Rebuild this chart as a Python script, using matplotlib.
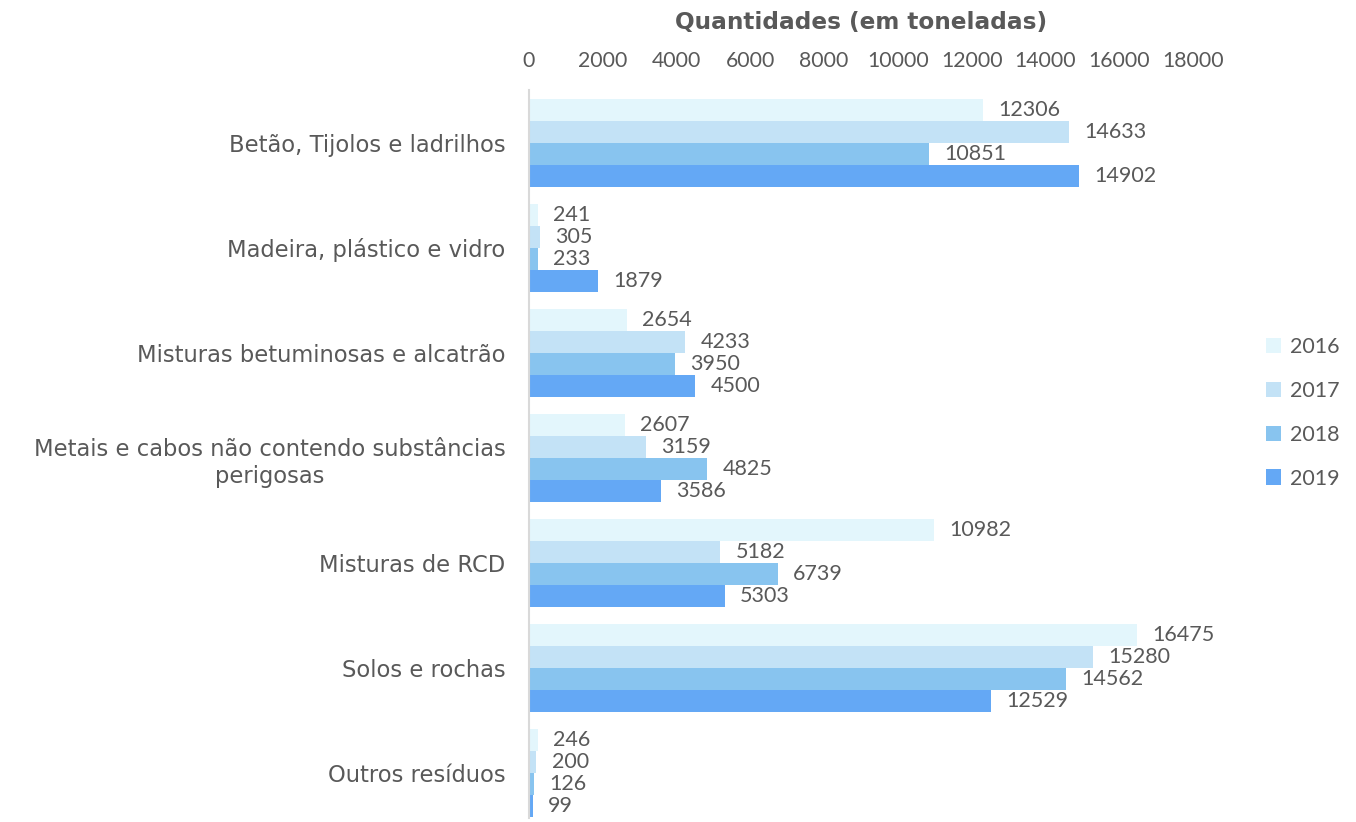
import matplotlib
matplotlib.use("Agg")
import matplotlib.pyplot as plt
import numpy as np

categories = [
    "Betão, Tijolos e ladrilhos",
    "Madeira, plástico e vidro",
    "Misturas betuminosas e alcatrão",
    "Metais e cabos não contendo substâncias\nperigosas",
    "Misturas de RCD",
    "Solos e rochas",
    "Outros resíduos",
]
years = ["2016", "2017", "2018", "2019"]
v2016 = [12306, 241, 2654, 2607, 10982, 16475, 246]
v2017 = [14633, 305, 4233, 3159, 5182, 15280, 200]
v2018 = [10851, 233, 3950, 4825, 6739, 14562, 126]
v2019 = [14902, 1879, 4500, 3586, 5303, 12529, 99]
series = [v2016, v2017, v2018, v2019]
colors = ["#E3F6FC", "#C3E2F6", "#88C4EF", "#64A8F5"]
xticks = [0, 2000, 4000, 6000, 8000, 10000, 12000, 14000, 16000, 18000]

plt.rcParams['font.family'] = ['Lato', 'DejaVu Sans']
txt = "#595959"

W, H = 1356, 822
fig = plt.figure(figsize=(W / 100, H / 100), dpi=100)
ax = fig.add_axes([529 / W, 1 - 818 / H, (1193 - 529) / W, (818 - 90) / H])

y = np.arange(len(categories))
h = 0.209
for i, (vals, c, yr) in enumerate(zip(series, colors, years)):
    pos = y + (i - 1.5) * h
    ax.barh(pos, vals, height=h, color=c, label=yr)
    for p, v in zip(pos, vals):
        ax.annotate(str(v), (v, p), xytext=(11, 0), textcoords="offset points",
                    va="center", ha="left", fontsize=15.5, color=txt)

ax.set_xlim(0, 18000)
ax.set_ylim(6.5 - 8 / 105, -0.5)
ax.set_yticks(y)
ax.set_yticklabels(categories, fontsize=16.3, color=txt, multialignment="center",
                   family=["DejaVu Sans"], linespacing=1.25)
ax.set_xticks(xticks)
ax.set_xticklabels([str(t) for t in xticks], fontsize=15.3, color=txt)
ax.xaxis.tick_top()
ax.tick_params(axis="both", length=0)
ax.tick_params(axis="x", pad=14)
ax.tick_params(axis="y", pad=17)
for s in ["top", "right", "bottom"]:
    ax.spines[s].set_visible(False)
ax.spines["left"].set_color("#D9D9D9")
ax.spines["left"].set_linewidth(1.5)

fig.text(861 / W, 1 - 22 / H, "Quantidades (em toneladas)", ha="center", va="center",
         fontsize=16.7, fontweight="bold", color=txt, family=["DejaVu Sans"])

leg = ax.legend(loc="center left", bbox_to_anchor=(1247 / W, 1 - 413 / H),
                bbox_transform=fig.transFigure, frameon=False, fontsize=15.5,
                handlelength=0.7, handleheight=0.7, handletextpad=0.4,
                labelspacing=1.1, labelcolor=txt)

fig.savefig("out.png", dpi=100)
